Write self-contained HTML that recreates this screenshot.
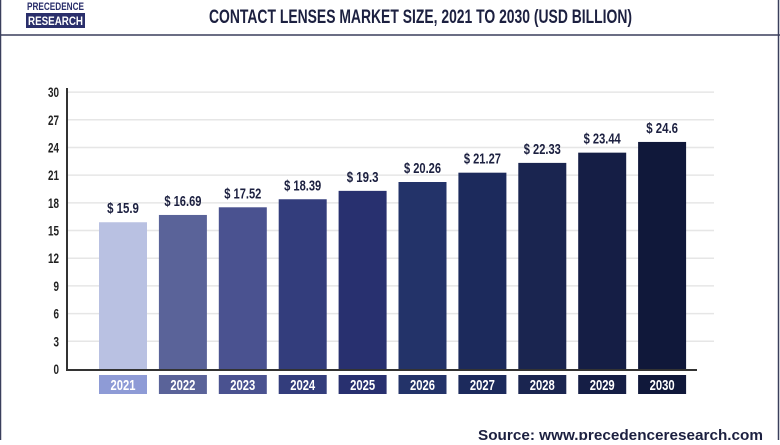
<!DOCTYPE html>
<html><head><meta charset="utf-8"><style>
body{margin:0;background:#fff;width:780px;height:440px;overflow:hidden;font-family:"Liberation Sans",sans-serif;}
</style></head><body>
<svg width="780" height="440" viewBox="0 0 780 440" xmlns="http://www.w3.org/2000/svg">
<rect x="0.5" y="-2" width="778" height="460" fill="none" stroke="#3a3f5c" stroke-width="1.5"/>
<line x1="0" y1="35" x2="780" y2="35" stroke="#3a3f5c" stroke-width="1.5"/>
<g>
<rect x="26" y="0" width="59" height="13" fill="#fff"/>
<text x="27" y="10" font-size="11" font-weight="bold" fill="#2a2f6b" textLength="57" lengthAdjust="spacingAndGlyphs">PRECEDENCE</text>
<rect x="26" y="13" width="59" height="15" fill="#2a2f6b"/>
<text x="28" y="25" font-size="12" font-weight="bold" fill="#fff" textLength="55" lengthAdjust="spacingAndGlyphs">RESEARCH</text>
</g>
<text x="209" y="23" font-size="19" font-weight="bold" fill="#1c2040" textLength="423" lengthAdjust="spacingAndGlyphs">CONTACT LENSES MARKET SIZE, 2021 TO 2030 (USD BILLION)</text>
<g id="grid"></g><g id="bars"></g>
<line x1="67" y1="88" x2="67" y2="370" stroke="#333" stroke-width="2"/>
<line x1="66" y1="370" x2="697" y2="370" stroke="#333" stroke-width="2"/>
<text x="478" y="440" font-size="15" font-weight="bold" fill="#1c2040" textLength="285" lengthAdjust="spacingAndGlyphs">Source: www.precedenceresearch.com</text>
</svg>
<script>
const categories=["2021","2022","2023","2024","2025","2026","2027","2028","2029","2030"];
const values=[15.9,16.69,17.52,18.39,19.3,20.26,21.27,22.33,23.44,24.6];
const valueLabels=["$ 15.9","$ 16.69","$ 17.52","$ 18.39","$ 19.3","$ 20.26","$ 21.27","$ 22.33","$ 23.44","$ 24.6"];
const yTicks=[0,3,6,9,12,15,18,21,24,27,30];
const barColors=["#b9c1e2","#5a6399","#4a5290","#333d7c","#28306f","#233369","#1c2a5c","#1a2550","#151e45","#10183a"];
const boxColors=["#8e9bd6","#5a6399","#4a5290","#333d7c","#28306f","#233369","#1c2a5c","#1a2550","#151e45","#10183a"];
const NS="http://www.w3.org/2000/svg";
const y=v=>369-v*9.23;
const x=i=>99+i*59.9;
const grid=document.getElementById('grid'),bars=document.getElementById('bars');
function mk(tag,at,parent){const e=document.createElementNS(NS,tag);for(const k in at)e.setAttribute(k,at[k]);parent.appendChild(e);return e;}
yTicks.forEach(t=>{
 if(t>0){const l=mk('line',{x1:68,x2:714,y1:y(t),y2:y(t),stroke:'#e6e6e6','stroke-width':1.5},grid);
 
 }
 const s=String(t);
 const tx=mk('text',{x:59,y:y(t)+5,'text-anchor':'end','font-size':14,'font-weight':'bold',fill:'#222',textLength:s.length*5.5,lengthAdjust:'spacingAndGlyphs'},grid);
 tx.textContent=s;
 
 
});
categories.forEach((c,i)=>{
 const r=mk('rect',{x:x(i),y:y(values[i]),width:48,height:369-y(values[i]),fill:barColors[i]},bars);
 
 
 const lab=valueLabels[i];
 const vl=mk('text',{x:x(i)+24,y:y(values[i])-9,'text-anchor':'middle','font-size':15,'font-weight':'bold',fill:'#1c2040',textLength:lab.length*5.3,lengthAdjust:'spacingAndGlyphs'},bars);
 vl.textContent=lab;
 
 
 const b=mk('rect',{x:x(i),y:375,width:48,height:19,fill:boxColors[i]},bars);
 
 
 const t=mk('text',{x:x(i)+24,y:390,'text-anchor':'middle','font-size':15,'font-weight':'bold',fill:'#fff',textLength:25,lengthAdjust:'spacingAndGlyphs'},bars);
 t.textContent=c;
 
 
});
</script>
</body></html>
